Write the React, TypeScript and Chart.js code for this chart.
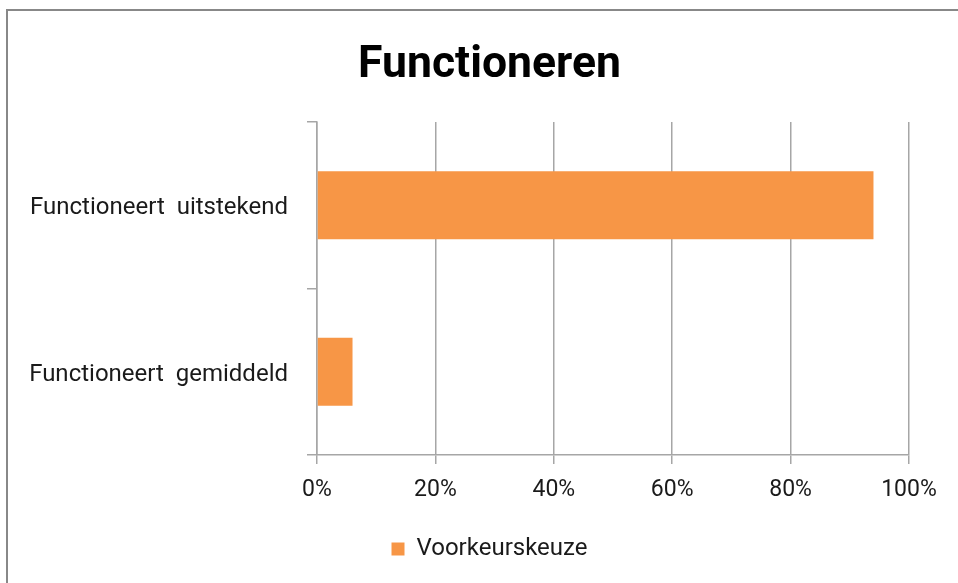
import React, { useEffect, useRef } from "react";
import { Chart, registerables } from "chart.js";

Chart.register(...registerables);

const title = "Functioneren";
const categories = ["Functioneert  uitstekend", "Functioneert  gemiddeld"];
const seriesName = "Voorkeurskeuze";
const seriesValues = [94, 6];
const xTicks = [0, 20, 40, 60, 80, 100];

const FONT = "Roboto, 'Noto Sans', sans-serif";
const GRID = "#a6a6a6";
const TEXT = "#1a1a1a";
const CENTER_SHIFT = 70;

const shiftPlugin = {
  id: "shiftCenteredBoxes",
  afterLayout(chart: any) {
    if (chart.titleBlock) chart.titleBlock.left += CENTER_SHIFT;
    if (chart.legend) chart.legend.left += CENTER_SHIFT;
  },
};

export default function App() {
  const ref = useRef<HTMLCanvasElement | null>(null);

  useEffect(() => {
    if (!ref.current) return;
    const chart = new Chart(ref.current, {
      type: "bar",
      data: {
        labels: categories,
        datasets: [
          {
            label: seriesName,
            data: seriesValues,
            backgroundColor: "#F79646",
            borderWidth: 0,
            categoryPercentage: 1,
            barPercentage: 0.407,
          },
        ],
      },
      plugins: [shiftPlugin],
      options: {
        indexAxis: "y",
        animation: false,
        responsive: false,
        layout: { padding: { left: 0, right: 49, top: 0, bottom: 12 } },
        plugins: {
          title: {
            display: true,
            text: title,
            color: "#000",
            font: { family: FONT, size: 44.5, weight: "bold", lineHeight: 1.2 },
            padding: { top: 39, bottom: 29.6 },
          },
          legend: {
            position: "bottom",
            labels: {
              color: TEXT,
              font: { family: FONT, size: 24 },
              boxWidth: 13,
              boxHeight: 13,
              padding: 10,
            },
          },
          tooltip: { enabled: false },
        },
        scales: {
          x: {
            min: 0,
            max: 100,
            afterBuildTicks: (scale: any) => {
              scale.ticks = xTicks.map((v) => ({ value: v }));
            },
            afterFit: (scale: any) => {
              scale.height = 72;
            },
            ticks: {
              color: TEXT,
              font: { family: FONT, size: 23 },
              padding: 12,
              callback: (v: any) => v + "%",
            },
            grid: {
              color: GRID,
              lineWidth: 1.5,
              tickLength: 9,
              drawTicks: true,
            },
            border: { color: GRID, width: 1.5 },
          },
          y: {
            afterFit: (scale: any) => {
              scale.width = 317;
            },
            ticks: {
              color: TEXT,
              font: { family: FONT, size: 24 },
              padding: 19,
              labelOffset: 3,
            },
            grid: {
              offset: true,
              drawOnChartArea: false,
              drawTicks: true,
              tickLength: 10,
              color: GRID,
              lineWidth: 1.5,
            },
            border: { color: GRID, width: 1.5 },
          },
        },
      },
    });
    return () => chart.destroy();
  }, []);

  return (
    <div
      style={{
        position: "fixed",
        left: 0,
        top: 0,
        width: 958,
        height: 583,
        background: "#fff",
      }}
    >
      <canvas ref={ref} width={958} height={583} style={{ display: "block" }} />
      <div
        style={{
          position: "absolute",
          left: 6,
          top: 9,
          width: 960,
          height: 580,
          borderTop: "2px solid #888",
          borderLeft: "2px solid #888",
          pointerEvents: "none",
        }}
      />
    </div>
  );
}
